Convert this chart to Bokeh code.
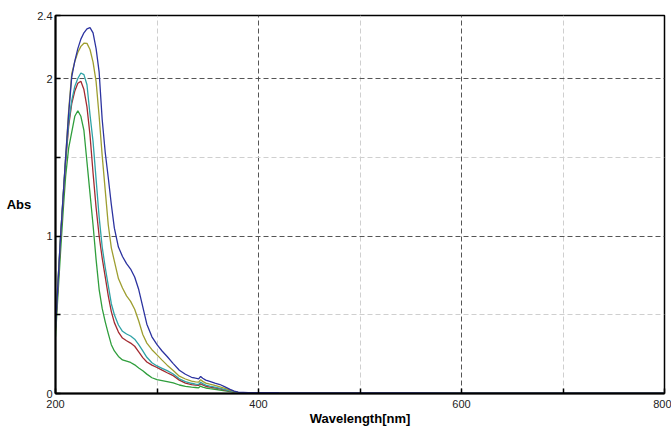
from bokeh.plotting import figure
from bokeh.models import Range1d, FixedTicker
from bokeh.embed import file_html
from bokeh.resources import INLINE

wavelength = [200, 202, 205, 208, 210, 213, 216, 219, 222, 225, 228, 231, 234, 237, 240,
              243, 246, 249, 252, 255, 258, 262, 266, 270, 274, 278, 282, 286, 290, 295,
              300, 305, 310, 316, 322, 328, 334, 338, 341, 343, 345, 348, 352, 357, 362,
              367, 372, 376, 380, 390, 400, 420, 450, 500, 550, 600, 650, 700, 750, 800]

abs_blue = [0.42, 0.65, 1.00, 1.30, 1.50, 1.78, 2.01, 2.11, 2.19, 2.25, 2.29, 2.315, 2.323, 2.29, 2.19,
            2.04, 1.74, 1.53, 1.37, 1.20, 1.05, 0.93, 0.87, 0.825, 0.79, 0.74, 0.66, 0.55, 0.44, 0.36,
            0.31, 0.27, 0.235, 0.19, 0.148, 0.122, 0.103, 0.097, 0.093, 0.108, 0.097, 0.085, 0.077, 0.066, 0.057,
            0.042, 0.026, 0.015, 0.008, 0.006, 0.006, 0.005, 0.004, 0.004, 0.004, 0.003, 0.003, 0.003, 0.003, 0.003]

abs_olive = [0.43, 0.66, 1.00, 1.30, 1.50, 1.80, 2.03, 2.107, 2.165, 2.204, 2.224, 2.223, 2.184, 2.104, 1.98,
             1.76, 1.51, 1.29, 1.07, 0.925, 0.84, 0.73, 0.67, 0.62, 0.585, 0.535, 0.46, 0.375, 0.32, 0.278,
             0.245, 0.212, 0.18, 0.146, 0.11, 0.092, 0.078, 0.074, 0.072, 0.087, 0.077, 0.066, 0.059, 0.051, 0.042,
             0.032, 0.021, 0.013, 0.007, 0.005, 0.005, 0.004, 0.004, 0.004, 0.003, 0.003, 0.003, 0.003, 0.003, 0.003]

abs_teal = [0.42, 0.65, 1.00, 1.30, 1.49, 1.72, 1.86, 1.95, 2.00, 2.035, 2.025, 1.96, 1.77, 1.60, 1.36,
            1.12, 0.93, 0.80, 0.685, 0.57, 0.50, 0.435, 0.395, 0.378, 0.365, 0.345, 0.31, 0.27, 0.23, 0.195,
            0.175, 0.16, 0.145, 0.124, 0.093, 0.076, 0.065, 0.06, 0.057, 0.072, 0.063, 0.053, 0.047, 0.04, 0.033,
            0.025, 0.017, 0.011, 0.006, 0.005, 0.005, 0.004, 0.004, 0.003, 0.003, 0.003, 0.003, 0.003, 0.003, 0.003]

abs_red = [0.40, 0.63, 0.98, 1.28, 1.47, 1.70, 1.84, 1.92, 1.97, 1.983, 1.93, 1.82, 1.64, 1.40, 1.18,
           1.00, 0.86, 0.74, 0.62, 0.52, 0.45, 0.39, 0.352, 0.335, 0.32, 0.30, 0.265, 0.228, 0.20, 0.18,
           0.165, 0.148, 0.132, 0.113, 0.085, 0.066, 0.056, 0.053, 0.051, 0.062, 0.055, 0.046, 0.041, 0.036, 0.03,
           0.022, 0.015, 0.009, 0.005, 0.004, 0.004, 0.004, 0.003, 0.003, 0.003, 0.003, 0.003, 0.003, 0.003, 0.003]

abs_green = [0.36, 0.58, 0.90, 1.20, 1.38, 1.56, 1.66, 1.76, 1.795, 1.76, 1.67, 1.47, 1.27, 1.07, 0.85,
             0.66, 0.54, 0.455, 0.38, 0.31, 0.27, 0.235, 0.213, 0.205, 0.197, 0.182, 0.162, 0.144, 0.123, 0.10,
             0.088, 0.082, 0.076, 0.067, 0.054, 0.045, 0.04, 0.038, 0.036, 0.047, 0.041, 0.035, 0.031, 0.027, 0.022,
             0.017, 0.012, 0.007, 0.004, 0.004, 0.004, 0.003, 0.003, 0.003, 0.003, 0.003, 0.003, 0.003, 0.003, 0.003]

x_major_ticks = [200, 400, 600, 800]
x_minor_ticks = [300, 500, 700]
y_major_ticks = [0, 1, 2, 2.4]
y_minor_ticks = [0.5, 1.5]

series = [
    (abs_green, "#2f9e3c"),
    (abs_red, "#a32a30"),
    (abs_teal, "#2ea2a6"),
    (abs_olive, "#9e9e30"),
    (abs_blue, "#2c33a0"),
]

p = figure(width=671, height=428, x_range=Range1d(200, 800), y_range=Range1d(0, 2.4),
           output_backend="svg", toolbar_location=None,
           min_border_left=55, min_border_right=7, min_border_top=15, min_border_bottom=35)

p.background_fill_color = "white"
p.border_fill_color = "white"
p.outline_line_color = "black"
p.outline_line_width = 1.5

for ys, col in series:
    p.line(wavelength, ys, line_color=col, line_width=1.3)

p.xaxis.ticker = FixedTicker(ticks=x_major_ticks, minor_ticks=x_minor_ticks)
p.yaxis.ticker = FixedTicker(ticks=y_major_ticks, minor_ticks=y_minor_ticks)
p.yaxis.major_label_overrides = {0: "0", 1: "1", 2: "2", 2.4: "2.4"}

p.xgrid.ticker = FixedTicker(ticks=[400, 600], minor_ticks=x_minor_ticks)
p.ygrid.ticker = FixedTicker(ticks=[1, 2], minor_ticks=y_minor_ticks)
for g in (p.xgrid, p.ygrid):
    g.grid_line_color = "#555555"
    g.grid_line_dash = "5 3"
    g.grid_line_width = 1
    g.minor_grid_line_color = "#cfcfcf"
    g.minor_grid_line_dash = "5 3"
    g.minor_grid_line_width = 1

for ax in (p.xaxis, p.yaxis):
    ax.axis_line_color = "black"
    ax.axis_line_width = 2
    ax.major_tick_in = 5
    ax.major_tick_out = 0
    ax.minor_tick_in = 5
    ax.minor_tick_out = 0
    ax.major_tick_line_color = "black"
    ax.minor_tick_line_color = "black"
    ax.major_tick_line_width = 1.5
    ax.minor_tick_line_width = 1.5
    ax.major_label_text_font = "Liberation Sans"
    ax.major_label_text_font_size = "11px"
    ax.major_label_text_color = "#222222"
    ax.axis_label_text_font = "Liberation Sans"
    ax.axis_label_text_font_size = "13px"
    ax.axis_label_text_font_style = "bold"
    ax.axis_label_text_color = "black"

p.xaxis.axis_label = "Wavelength[nm]"
p.xaxis.major_label_standoff = 6
p.xaxis.axis_label_standoff = 0
p.yaxis.axis_label = "Abs"
p.yaxis.axis_label_orientation = "horizontal"
p.yaxis.major_label_standoff = 3
p.yaxis.axis_label_standoff = 3

open("out.html", "w").write(file_html(p, INLINE))
